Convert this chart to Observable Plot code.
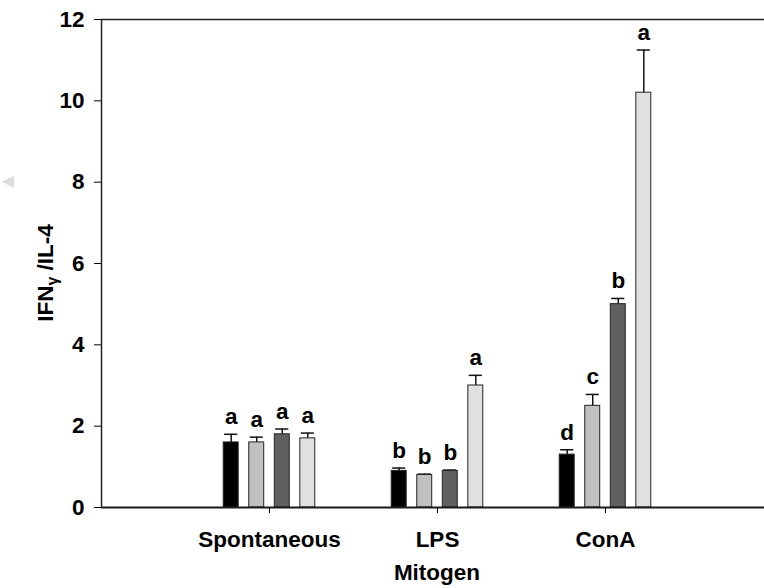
<!DOCTYPE html>
<html>
<head>
<meta charset="utf-8">
<script src="https://cdn.jsdelivr.net/npm/d3@7"></script>
<script src="https://cdn.jsdelivr.net/npm/@observablehq/plot@0.6"></script>
<style>
  html, body { margin: 0; padding: 0; background: #fff; overflow: hidden; }
  #chart svg { display: block; max-width: none; }
  #chart svg text { font-family: "Liberation Sans", Arial, sans-serif; font-weight: bold; font-size: 22.5px; fill: #000; }
  #chart svg .ylab tspan.sub { font-size: 16px; }
</style>
</head>
<body>
<div id="chart"></div>
<script>
// ---- data ----
const mitogens = ["Spontaneous", "LPS", "ConA"];
const series = ["Group 1", "Group 2", "Group 3", "Group 4"];
const seriesColors = ["#000000", "#c0c0c0", "#606060", "#e0e0e0"];

const spontaneousMean = [1.6, 1.6, 1.8, 1.7];
const spontaneousSE   = [0.2, 0.13, 0.13, 0.13];
const spontaneousSig  = ["a", "a", "a", "a"];

const lpsMean = [0.9, 0.8, 0.9, 3.0];
const lpsSE   = [0.07, 0.02, 0.02, 0.25];
const lpsSig  = ["b", "b", "b", "a"];

const conaMean = [1.3, 2.5, 5.0, 10.2];
const conaSE   = [0.12, 0.28, 0.14, 1.05];
const conaSig  = ["d", "c", "b", "a"];

const yTicks = [0, 2, 4, 6, 8, 10, 12];
const yLabelMain = "IFN";
const yLabelSub = "γ";
const yLabelRest = " /IL-4";
const xLabel = "Mitogen";

// ---- build table ----
const byMitogen = [
  [spontaneousMean, spontaneousSE, spontaneousSig],
  [lpsMean, lpsSE, lpsSig],
  [conaMean, conaSE, conaSig]
];
const rows = [];
byMitogen.forEach(([m, e, s], gi) => {
  series.forEach((name, si) => {
    rows.push({mitogen: mitogens[gi], gi, series: name, si, value: m[si], err: e[si], letter: s[si]});
  });
});

const step = 0.152;   // bar spacing within group (in group units)
const half = 0.0445;  // half bar width
const cap = 0.039;    // half cap width
const pos = d => d.gi + (d.si - 1.5) * step;

const plot = Plot.plot({
  width: 768,
  height: 588,
  marginLeft: 101,
  marginRight: 0,
  marginTop: 19,
  marginBottom: 81,
  x: {domain: [-1, 3], range: [101, 773], ticks: [0, 1, 2], tickFormat: i => mitogens[i], tickSize: 6, tickPadding: 18, label: null},
  y: {domain: [0, 12], ticks: yTicks, tickSize: 7, tickPadding: 10, label: null},
  color: {domain: series, range: seriesColors},
  marks: [
    Plot.ruleX([-1], {y1: 0, y2: 12, stroke: "#222", strokeWidth: 1.5}),
    Plot.ruleY([12], {x1: -1, x2: 3, stroke: "#222", strokeWidth: 1.5}),
    Plot.ruleX(rows, {x: pos, y1: d => d.value, y2: d => d.value + d.err, stroke: "#111", strokeWidth: 1.5}),
    Plot.ruleY(rows, {y: d => d.value + d.err, x1: d => pos(d) - cap, x2: d => pos(d) + cap, stroke: "#111", strokeWidth: 1.5}),
    Plot.rectY(rows, {x1: d => pos(d) - half, x2: d => pos(d) + half, y1: 0, y2: "value", fill: "series", stroke: "#222", strokeWidth: 1}),
    Plot.text(rows, {x: pos, y: d => d.value + d.err, text: "letter", lineAnchor: "bottom", dy: -10}),
    Plot.ruleY([0], {x1: -1, x2: 3, stroke: "#1a1a1a", strokeWidth: 2})
  ]
});

document.getElementById("chart").appendChild(plot);

// axis titles as real text
const svg = d3.select(plot);
const xs = plot.scale("x");
const ylab = svg.append("text")
  .attr("class", "ylab")
  .attr("text-anchor", "middle")
  .attr("transform", "translate(53,273) rotate(-90)");
ylab.append("tspan").text(yLabelMain);
ylab.append("tspan").attr("class", "sub").attr("dy", "5").text(yLabelSub);
ylab.append("tspan").attr("dy", "-5").text(yLabelRest);

svg.append("text")
  .attr("text-anchor", "middle")
  .attr("x", xs.apply(1))
  .attr("y", 580)
  .text(xLabel);

svg.append("text")
  .attr("x", 8).attr("y", 186)
  .style("font-size", "16px").style("fill", "#dcdcdc").style("font-family", "DejaVu Sans")
  .text("◀");
</script>
</body>
</html>
